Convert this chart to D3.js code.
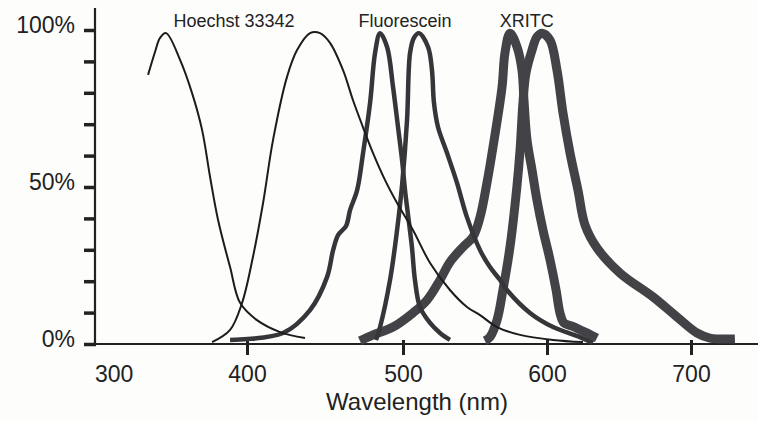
<!DOCTYPE html>
<html>
<head>
<meta charset="utf-8">
<script src="https://cdn.jsdelivr.net/npm/d3@7"></script>
<style>
  body { margin: 0; background: #fdfdfc; }
  svg { display: block; font-family: "Liberation Sans", Arial, Helvetica, sans-serif; }
</style>
</head>
<body>
<svg id="chart" width="758" height="422"></svg>
<script>
// [wavelength (nm), relative intensity (%)]
const hoechstEx = [[325.8,85.7],[331,93],[334.8,97.5],[339.3,99],[349.8,90.5],[358.8,79.9],[366.3,68.2],[372.3,53.2],[378.3,39.5],[387.3,24.5],[394.8,13.1],[406.4,7.6],[421.2,3.8],[437.2,1.9]];
const hoechstEm = [[373.8,0.6],[387.3,4.5],[396.3,13.1],[403.8,27.7],[410.3,44.9],[416.7,65],[425.6,85],[432.1,93.6],[440.4,99],[446.8,99],[453.2,95.9],[461.5,87.3],[467.9,77.7],[474.3,69.1],[480.8,60.8],[488.5,52.2],[496.2,44.9],[506.9,36.3],[518.8,25.8],[532.6,17.2],[544.4,11.8],[553.5,9.2],[565.3,5.4],[581.3,2.9],[604.2,1.3],[625,0.6]];
const fluorEx = [[387.3,1.3],[423.1,3.5],[440.4,10.8],[451.3,21.3],[455.2,29.9],[458.4,34.7],[463.5,37.6],[466.1,42.7],[470.6,49],[474.4,60.8],[478.9,76.8],[482.1,92.7],[485.3,99],[489.8,94.6],[493.6,81.9],[496.8,69.1],[499.4,58.6],[501.4,49],[503.5,41.1],[506.2,30.9],[508.3,20.4],[511.8,11.8],[518.8,6.7],[525.7,3.5],[532.6,1.3]];
const fluorEm = [[482.7,1.3],[485.3,5.4],[491.7,20.4],[496.2,36.3],[499.4,50.6],[502.8,71.3],[504.9,92.7],[507.6,97.5],[511.1,99],[517.4,94.6],[520.1,87.3],[521.5,76.8],[524.3,69.1],[530.6,60.8],[537.5,51.3],[544.4,40.4],[553.5,29.9],[560.4,24.5],[567.4,20.4],[572.2,17.2],[588.2,9.9],[604.2,5.4],[622.9,2.2],[631.9,0.3]];
const xritcEx = [[472.4,1],[480.8,2.9],[493.6,5.4],[506.9,9.9],[516.7,14],[525.7,20.4],[532.6,26.1],[541.7,30.9],[548.6,34.1],[553.5,40.4],[558.3,51.3],[562.5,62.7],[568.8,81.9],[570.8,92.7],[574.3,99],[579.2,94.6],[582.6,87.3],[584,77.7],[586.1,65],[589.6,55.4],[593,45.9],[597.2,36.3],[602.1,26.8],[606.3,17.2],[609,9.9],[611.8,6.7],[617.4,5.7],[626.4,3.8],[634.7,1.9]];
const xritcEm = [[556.9,1],[560.4,2.2],[565.3,7.6],[569.4,17.2],[574.3,30.9],[579.2,50.6],[581.3,61.8],[583.3,76.8],[585.4,86.3],[589.6,93.6],[593,97.8],[596.5,99],[602.1,96.8],[606.9,87.3],[611.1,73.6],[616,60.8],[621.5,49],[626.4,37.9],[634.7,30.6],[650.7,22.6],[673.6,15],[690.3,8.6],[704.2,3.5],[713.2,1.9],[730.6,1.6]];

const dyeNames = ["Hoechst 33342", "Fluorescein", "XRITC"];
const xTicks = [300, 400, 500, 600, 700];
const yTicks = [0, 10, 20, 30, 40, 50, 60, 70, 80, 90, 100];
const yLabels = [0, 50, 100];

const svg = d3.select("#chart");

// the printed axis is not quite even, so follow its tick marks
const x = d3.scaleLinear()
    .domain([286, 400, 500, 600, 700, 746])
    .range([95, 247, 403, 547, 691, 757]);

const y = d3.scaleLinear()
    .domain([0, 100])
    .range([344, 30]);

const ink = "#222";

// y axis
const yAxis = svg.append("g")
    .attr("transform", "translate(95,0)")
    .call(d3.axisLeft(y)
        .tickValues(yTicks)
        .tickSize(11)
        .tickPadding(9)
        .tickFormat(d => yLabels.includes(d) ? d + "%" : ""));
yAxis.select(".domain").remove();
yAxis.selectAll(".tick line")
    .attr("x2", -11).attr("x1", 1)
    .attr("stroke", ink).attr("stroke-width", 3.5);
yAxis.selectAll(".tick text")
    .attr("dy", "0.09em")
    .attr("fill", ink)
    .style("font-size", "23px");

svg.append("line")
    .attr("x1", 95).attr("x2", 95)
    .attr("y1", 8).attr("y2", y(0) + 1)
    .attr("stroke", ink).attr("stroke-width", 2.2);

// x axis
const xAxis = svg.append("g")
    .attr("transform", `translate(0,${y(0)})`)
    .call(d3.axisBottom(x).tickValues(xTicks).tickSize(11));
xAxis.select(".domain").remove();
xAxis.selectAll(".tick line")
    .attr("y1", -4)
    .attr("stroke", ink).attr("stroke-width", 3)
    .filter(d => d === 300).remove();
xAxis.selectAll(".tick text")
    .attr("y", 38).attr("dy", 0)
    .attr("fill", ink)
    .style("font-size", "23px");

svg.append("line")
    .attr("x1", 95).attr("x2", 758)
    .attr("y1", y(0)).attr("y2", y(0))
    .attr("stroke", ink).attr("stroke-width", 1.8);

svg.append("text")
    .attr("x", 417).attr("y", 410)
    .attr("text-anchor", "middle")
    .attr("fill", ink)
    .style("font-size", "24px")
    .text("Wavelength (nm)");

// spectra
const line = d3.line()
    .x(d => x(d[0]))
    .y(d => y(d[1]))
    .curve(d3.curveCatmullRom.alpha(0.5));

const spectra = [
    { data: xritcEx, color: "#434347", width: 9 },
    { data: xritcEm, color: "#434347", width: 9 },
    { data: fluorEx, color: "#36363a", width: 4.5 },
    { data: fluorEm, color: "#36363a", width: 4.5 },
    { data: hoechstEx, color: "#1c1c1c", width: 2 },
    { data: hoechstEm, color: "#1c1c1c", width: 2 }
];

svg.selectAll(".spectrum")
    .data(spectra)
    .enter().append("path")
    .attr("class", "spectrum")
    .attr("d", d => line(d.data))
    .attr("fill", "none")
    .attr("stroke", d => d.color)
    .attr("stroke-width", d => d.width)
    .attr("stroke-linejoin", "round")
    .attr("stroke-linecap", "butt");

// dye names above the peaks
const labelNm = [390.3, 501.4, 586];
svg.selectAll(".dye")
    .data(dyeNames)
    .enter().append("text")
    .attr("class", "dye")
    .attr("x", (d, i) => x(labelNm[i]))
    .attr("y", 27)
    .attr("text-anchor", "middle")
    .attr("fill", ink)
    .style("font-size", "18px")
    .text(d => d);
</script>
</body>
</html>
